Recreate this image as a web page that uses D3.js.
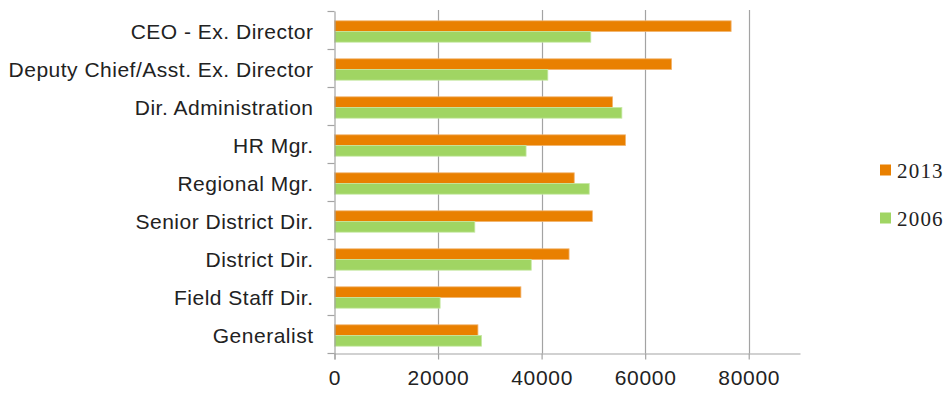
<!DOCTYPE html>
<html>
<head>
<meta charset="utf-8">
<script src="https://cdn.jsdelivr.net/npm/d3@7"></script>
<style>
  html, body { margin: 0; padding: 0; background: #fff; }
  svg { display: block; }
</style>
</head>
<body>
<svg id="chart" width="945" height="399"></svg>
<script>
// Salary by position, 2013 vs 2006
const categories = [
  "CEO - Ex. Director",
  "Deputy Chief/Asst. Ex. Director",
  "Dir. Administration",
  "HR Mgr.",
  "Regional Mgr.",
  "Senior District Dir.",
  "District Dir.",
  "Field Staff Dir.",
  "Generalist"
];
const seriesNames = ["2013", "2006"];
const values2013 = [76600, 65100, 53700, 56200, 46300, 49800, 45300, 36000, 27700];
const values2006 = [49500, 41200, 55500, 37000, 49200, 27100, 38000, 20400, 28400];
const xTicks = [0, 20000, 40000, 60000, 80000];
const seriesColors = ["#e98000", "#a0d563"];
const seriesEdges = ["#f2b36e", "#c6e8a4"];

const svg = d3.select("#chart");
const plotLeft = 334.5, plotRight = 800.5, plotTop = 11.5, plotBottom = 353.5;

const x = d3.scaleLinear().domain([0, 90000]).range([plotLeft, plotRight]);
const y = d3.scaleBand().domain(categories).range([plotTop, plotBottom]).padding(0);
const inner = d3.scaleBand().domain(seriesNames)
  .range([0, y.bandwidth()]).paddingInner(0).paddingOuter(0.78).align(0.56);

// vertical gridlines
svg.append("g")
  .selectAll("line")
  .data(xTicks.slice(1))
  .join("line")
  .attr("x1", d => Math.round(x(d)) + 0.5)
  .attr("x2", d => Math.round(x(d)) + 0.5)
  .attr("y1", plotTop - 1.5)
  .attr("y2", plotBottom)
  .attr("stroke", "#a3a3a3")
  .attr("stroke-width", 1.2);

// bars
const rows = categories.map((c, i) => ({ c, vals: [values2013[i], values2006[i]] }));
const groups = svg.append("g")
  .selectAll("g")
  .data(rows)
  .join("g")
  .attr("transform", d => `translate(0,${y(d.c)})`);

groups.selectAll("rect")
  .data(d => d.vals.map((v, j) => ({ v, s: seriesNames[j], j })))
  .join("rect")
  .attr("x", x(0))
  .attr("y", d => inner(d.s))
  .attr("width", d => x(d.v) - x(0))
  .attr("height", inner.bandwidth())
  .attr("fill", d => seriesColors[d.j])
  .attr("stroke", d => seriesEdges[d.j])
  .attr("stroke-width", 0.8);

// x axis
const xAxis = d3.axisBottom(x).tickValues(xTicks).tickSize(6).tickSizeOuter(0).tickPadding(11)
  .tickFormat(d3.format("d"));
const gx = svg.append("g")
  .attr("transform", `translate(0,${plotBottom})`)
  .call(xAxis);
gx.select(".domain").attr("stroke", "#a3a3a3").attr("stroke-width", 1.2)
  .attr("d", `M${plotLeft},0.5H${plotRight}`);
gx.selectAll(".tick line").attr("stroke", "#a3a3a3").attr("stroke-width", 1.2);
gx.selectAll(".tick text")
  .attr("fill", "#222")
  .style("font-family", "'Liberation Sans', Arial, sans-serif")
  .style("font-size", "21px")
  .style("letter-spacing", "0.7px");

// y axis
const yAxis = d3.axisLeft(y).tickSize(0).tickPadding(21);
const gy = svg.append("g")
  .attr("transform", `translate(${plotLeft},0)`)
  .call(yAxis);
gy.select(".domain").attr("stroke", "#a3a3a3").attr("stroke-width", 1.2)
  .attr("d", `M0.5,${plotTop}V${plotBottom + 6}`);
gy.selectAll(".tick text")
  .attr("fill", "#222")
  .attr("dy", "0.42em")
  .style("font-family", "'Liberation Sans', Arial, sans-serif")
  .style("font-size", "21px")
  .style("letter-spacing", "0.5px");

// category boundary ticks
svg.append("g")
  .selectAll("line")
  .data(d3.range(categories.length + 1))
  .join("line")
  .attr("x1", plotLeft - 7)
  .attr("x2", plotLeft)
  .attr("y1", i => plotTop + i * y.step())
  .attr("y2", i => plotTop + i * y.step())
  .attr("stroke", "#a3a3a3")
  .attr("stroke-width", 1.2);

// legend
const legend = svg.append("g").attr("transform", "translate(880,0)");
const legendY = [170, 218];
seriesNames.forEach((s, j) => {
  legend.append("rect")
    .attr("x", 0).attr("y", legendY[j] - 5.5)
    .attr("width", 11).attr("height", 11)
    .attr("fill", seriesColors[j]);
  legend.append("text")
    .attr("x", 17).attr("y", legendY[j])
    .attr("dy", "0.38em")
    .attr("fill", "#222")
    .style("font-family", "'Liberation Serif', 'Times New Roman', serif")
    .style("font-size", "21px")
    .style("letter-spacing", "1.2px")
    .text(s);
});
</script>
</body>
</html>
